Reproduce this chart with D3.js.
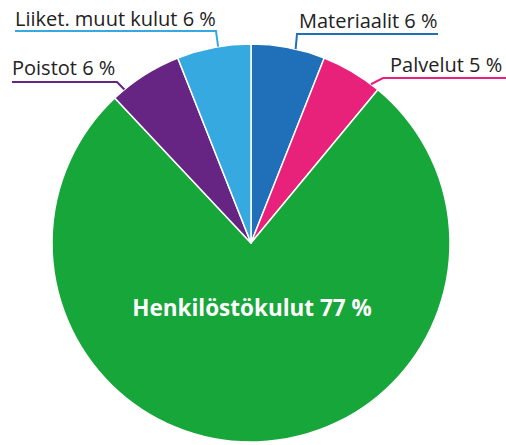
<!DOCTYPE html>
<html><head><meta charset="utf-8">
<script src="https://cdn.jsdelivr.net/npm/d3@7"></script>
<style>body{margin:0;background:#fff}svg{display:block}</style>
</head><body><svg id="c" width="506" height="445"></svg>
<script>
const categories = ["Materiaalit","Palvelut","Henkilöstökulut","Poistot","Liiket. muut kulut"];
const values = [6,5,77,6,6];
const colors = ["#1f70b8","#e8217a","#17a63a","#662483","#36a9e1"];

const svg = d3.select("#c");
const cx = 251, cy = 243, R = 199;
const g = svg.append("g").attr("transform",`translate(${cx},${cy})`);
const pie = d3.pie().sort(null).value(d=>d.v);
const arcs = pie(categories.map((c,i)=>({c, v:values[i], col:colors[i]})));
const arc = d3.arc().innerRadius(0).outerRadius(R);
g.selectAll("path").data(arcs).join("path")
  .attr("d",arc).attr("fill",d=>d.data.col)
  .attr("stroke","#fff").attr("stroke-width",1.5).attr("stroke-linejoin","round");

const layout = {
  "Materiaalit": {t:0.6, elbow:[297,34], end:438, tx:299, ty:28},
  "Palvelut": {t:0.86, elbow:[383,78], end:506, tx:390, ty:72},
  "Poistot": {t:0.17, elbow:[117,82], end:12, tx:12, ty:75},
  "Liiket. muut kulut": {t:0.56, elbow:[216,31], end:15, tx:15, ty:26}
};
arcs.forEach(d=>{
  const L = layout[d.data.c];
  const fmt = d.data.c + " " + d.data.v + " %";
  if(!L){
    g.append("text").attr("x",1).attr("y",73).attr("text-anchor","middle")
      .attr("font-family","Open Sans, sans-serif").attr("font-weight","bold")
      .attr("font-size",22.5).attr("fill","#fff").text(fmt);
    return;
  }
  const a = d.startAngle + L.t*(d.endAngle-d.startAngle);
  const px = cx + R*Math.sin(a), py = cy - R*Math.cos(a);
  svg.append("polyline").attr("points",`${px},${py} ${L.elbow[0]},${L.elbow[1]} ${L.end},${L.elbow[1]}`)
    .attr("fill","none").attr("stroke",d.data.col).attr("stroke-width",2);
  svg.append("text").attr("x",L.tx).attr("y",L.ty)
    .attr("font-family","Open Sans, sans-serif").attr("font-size",20).attr("fill","#222").text(fmt);
});
</script></body></html>
